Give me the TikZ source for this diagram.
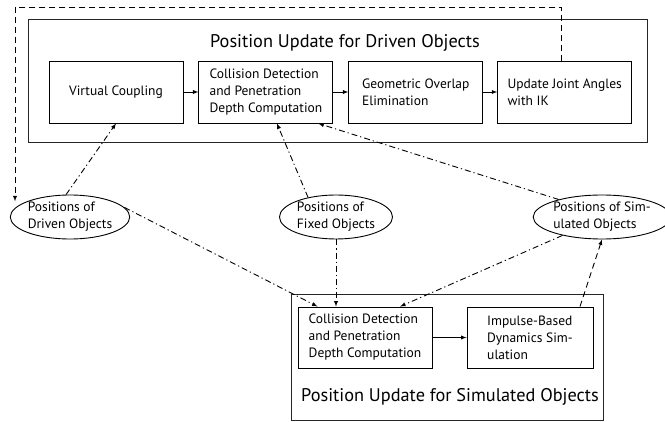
\documentclass[tikz,border=0pt]{standalone}
\usepackage{fontspec}
\setmainfont{PT Sans}
\usetikzlibrary{shapes,arrows.meta,positioning,calc}
\tikzset{>=latex}
\tikzset{
  stage/.style={draw, line width=0.9pt, minimum width=134pt, minimum height=62pt, align=left, font=\fontsize{13.5}{17}\selectfont},
  posnode/.style={draw, ellipse, line width=0.9pt, minimum width=113pt, minimum height=44pt, inner sep=0pt, align=left, font=\fontsize{13.5}{17}\selectfont},
  groupbox/.style={draw=black!85, line width=1pt},
  grouptitle/.style={font=\fontsize{18.3}{21}\selectfont},
  flow/.style={->, line width=0.9pt},
  data/.style={->, line width=0.9pt, dash pattern=on 6pt off 3pt on 1.2pt off 3pt},
  feedback/.style={->, line width=0.9pt, dash pattern=on 6pt off 4pt},
}

\begin{document}
\begin{tikzpicture}[x=1pt,y=-1pt]
    \useasboundingbox (0,0) rectangle (665,422);
    % driven objects
    \node (drivengrp) [groupbox, minimum width=619pt, minimum height=123pt] at (337.5,81.5) {};
    \node (driventitle) [grouptitle] at (345,43) {Position Update for Driven Objects};
    \node (coupling) [stage] at (116,92) {Virtual Coupling};
    \node (collide) [stage, right=15pt of coupling] {Collision Detection\\and Penetration\\Depth Computation};
    \node (overlap) [stage, right=15pt of collide] {Geometric Overlap\\Elimination};
    \node (update) [stage, right=14pt of overlap] {Update Joint Angles\\with IK};
    \draw [flow] (coupling) -- (collide);
    \draw [flow] (collide) -- (overlap);
    \draw [flow] (overlap) -- (update);
    % positions
    \node (driven) [posnode] at (70,217) {Positions of\\Driven Objects};
    \node (fixed) [posnode] at (336,217) {Positions of\\Fixed Objects};
    \node (sim) [posnode, minimum width=116pt] at (602,217) {Positions of Sim-\\ulated Objects};
    % simulated objects
    \node (simgrp) [groupbox, minimum width=312pt, minimum height=126pt] at (447,358) {};
    \node (simtitle) [grouptitle] at (450,397) {Position Update for Simulated Objects};
    \node (collide2) [stage, minimum height=61pt] at (365,337.5) {Collision Detection\\and Penetration\\Depth Computation};
    \node (impulse) [stage, minimum width=126pt, minimum height=61pt] at (530,337.5) {Impulse-Based\\Dynamics Sim-\\ulation};
    \draw [flow] (collide2) -- (impulse);
    % data flow
    \draw [data] (driven.100) -- (coupling.south);
    \draw [data] (fixed.145) -- ([xshift=11pt]collide.south);
    \draw [data] (sim.158) -- ([xshift=-15pt]collide.south east);
    \draw [data] (driven.10) -- ([xshift=20pt]collide2.north west);
    \draw [data] (fixed.south) -- (fixed.south |- collide2.north);
    \draw [data] (sim.205) -- ([xshift=35pt]collide2.north);
    \draw [feedback] ([xshift=50pt]impulse.north) -- (sim.south);
    \coordinate (loopcorner) at (15,7);
    \draw [feedback] ([xshift=-3pt]update.north) |- (loopcorner) -- (driven.160 -| loopcorner);
\end{tikzpicture}
\end{document}
